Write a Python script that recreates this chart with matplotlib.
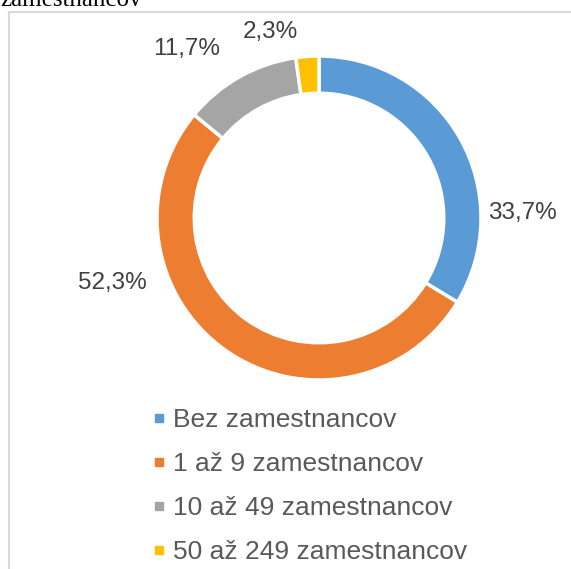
import matplotlib.pyplot as plt
from matplotlib.lines import Line2D

plt.rcParams['font.family'] = ['Liberation Sans', 'DejaVu Sans']

categories = ['Bez zamestnancov', '1 až 9 zamestnancov',
              '10 až 49 zamestnancov', '50 až 249 zamestnancov']
shares = [33.7, 52.3, 11.7, 2.3]
colors = ['#5B9BD5', '#ED7D31', '#A5A5A5', '#FFC000']
# where Excel put the data labels (relative to the ring, radius = 1)
label_pos = [(1.253, 0.03), (-1.278, -0.40), (-0.815, 1.045), (-0.30, 1.15)]

W, H = 571, 569
fig = plt.figure(figsize=(W / 100, H / 100), dpi=100)

# chart frame (only left and top edges visible in the crop)
fig.add_artist(Line2D([8.5 / W, 8.5 / W], [0, 1 - 11.5 / H], color='#d9d9d9', lw=1.5))
fig.add_artist(Line2D([8.5 / W, 1], [1 - 11.5 / H, 1 - 11.5 / H], color='#d9d9d9', lw=1.5))

# cut-off caption from the document above the chart
fig.text(0, 1 - 6 / H, 'zamestnancov', family='Liberation Serif', fontsize=18,
         color='black', va='baseline', ha='left')

cx, cy, r = 319, 218, 162
ax = fig.add_axes([(cx - r) / W, (H - cy - r) / H, 2 * r / W, 2 * r / H])
wedges, _ = ax.pie(shares, colors=colors, startangle=90, counterclock=False,
                   radius=1, wedgeprops=dict(width=0.23, edgecolor='white', linewidth=2.5))
ax.set_xlim(-1, 1)
ax.set_ylim(-1, 1)
ax.set_aspect('equal')
ax.axis('off')

for val, (x, y) in zip(shares, label_pos):
    ax.text(x, y, f'{val:.1f}%'.replace('.', ','), ha='center', va='center',
            fontsize=17.5, color='#404040', clip_on=False)

handles = [Line2D([], [], marker='s', ls='', color=c, markersize=6) for c in colors]
fig.legend(handles, categories, loc='upper left', bbox_to_anchor=(152 / W, 1 - 408 / H),
           frameon=False, fontsize=19, labelcolor='#595959', handlelength=0.5,
           handletextpad=0.3, labelspacing=0.76, borderpad=0, borderaxespad=0)

fig.savefig('out.png', dpi=100)
